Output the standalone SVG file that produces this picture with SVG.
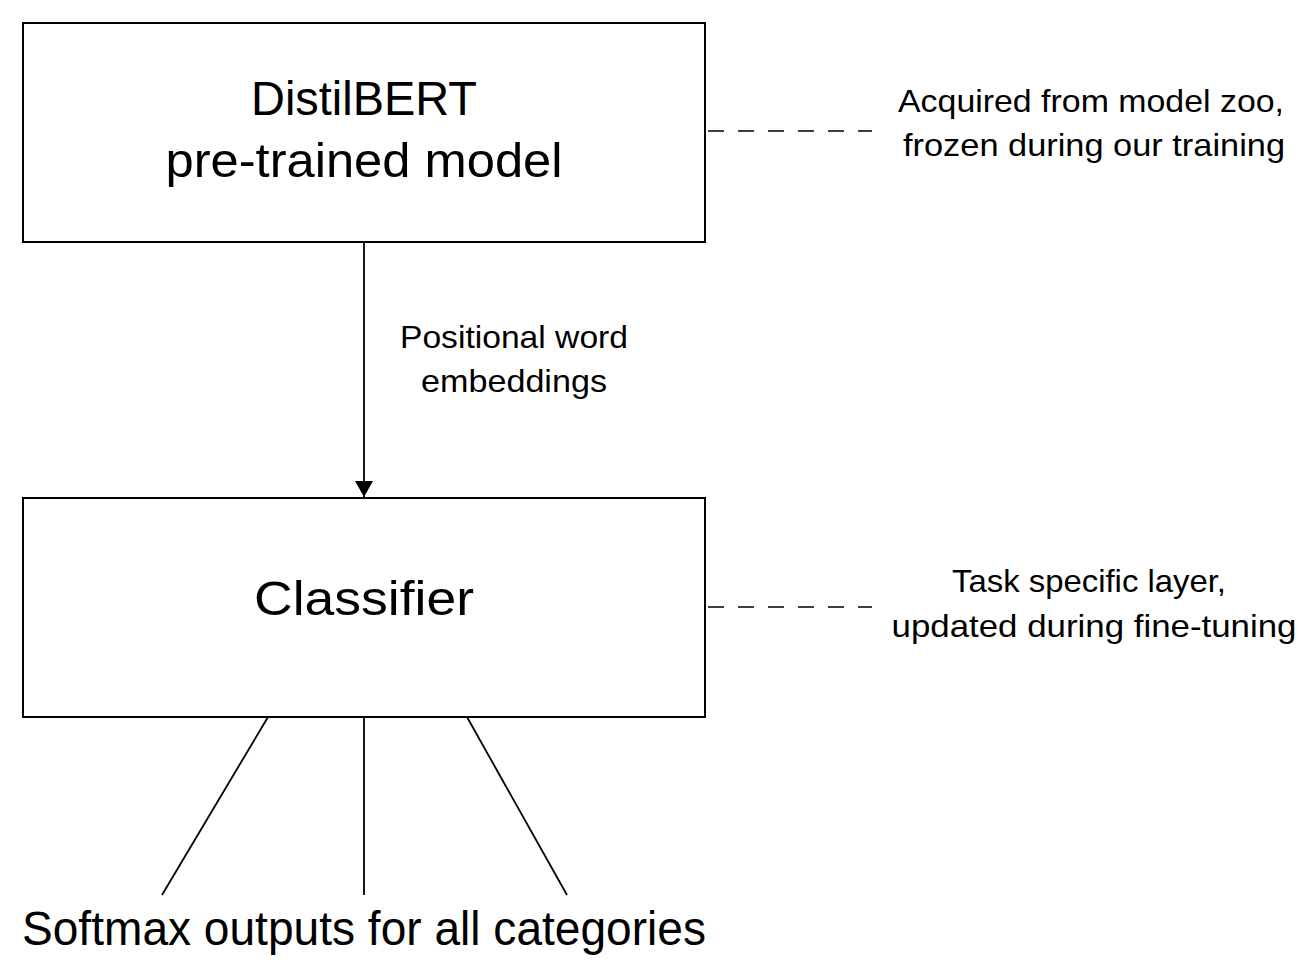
<svg xmlns="http://www.w3.org/2000/svg" width="1309" height="979" viewBox="0 0 1309 979">
<style>
.box{fill:#fff;stroke:#000;stroke-width:2}
.ln{stroke:#000;stroke-width:1.8;fill:none}
.dash{stroke:#000;stroke-width:1.6;stroke-dasharray:16 14;fill:none}
text{font-family:"Liberation Sans",Arial,sans-serif;fill:#000;text-anchor:middle}
.big{font-size:49px}
.sm{font-size:32px}
</style>
<defs>
<marker id="arr" markerWidth="16" markerHeight="18" refX="16" refY="9" orient="auto" markerUnits="userSpaceOnUse">
<path d="M0,0 L16,9 L0,18 Z" fill="#000"/>
</marker>
</defs>
<rect width="1309" height="979" fill="#fff"/>
<g id="connectors">
<line class="ln" x1="364" y1="242" x2="364" y2="497" marker-end="url(#arr)"/>
<line class="dash" x1="708" y1="131" x2="872" y2="131"/>
<line class="dash" x1="708" y1="607" x2="872" y2="607"/>
<line class="ln" x1="268" y1="717" x2="162" y2="895"/>
<line class="ln" x1="364" y1="717" x2="364" y2="895"/>
<line class="ln" x1="467" y1="717" x2="567" y2="895"/>
<g id="edge-label">
<text class="sm" x="514" y="348" textLength="228" lengthAdjust="spacingAndGlyphs">Positional word</text>
<text class="sm" x="514" y="392" textLength="186" lengthAdjust="spacingAndGlyphs">embeddings</text>
</g>
</g>
<g id="distilbert">
<rect class="box" x="23" y="23" width="682" height="219"/>
<text class="big" x="364" y="115" textLength="226" lengthAdjust="spacingAndGlyphs">DistilBERT</text>
<text class="big" x="364" y="177" textLength="397" lengthAdjust="spacingAndGlyphs">pre-trained model</text>
</g>
<g id="classifier">
<rect class="box" x="23" y="498" width="682" height="219"/>
<text class="big" x="364" y="615" textLength="220" lengthAdjust="spacingAndGlyphs">Classifier</text>
</g>
<g id="note-frozen">
<text class="sm" x="1091" y="112" textLength="386" lengthAdjust="spacingAndGlyphs">Acquired from model zoo,</text>
<text class="sm" x="1094" y="156" textLength="382" lengthAdjust="spacingAndGlyphs">frozen during our training</text>
</g>
<g id="note-task">
<text class="sm" x="1089" y="592" textLength="274" lengthAdjust="spacingAndGlyphs">Task specific layer,</text>
<text class="sm" x="1094" y="637" textLength="405" lengthAdjust="spacingAndGlyphs">updated during fine-tuning</text>
</g>
<g id="softmax">
<text class="big" x="364" y="945" textLength="684" lengthAdjust="spacingAndGlyphs">Softmax outputs for all categories</text>
</g>
</svg>
